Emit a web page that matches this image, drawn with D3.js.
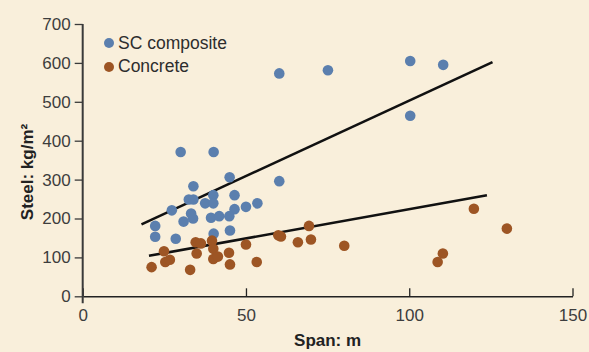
<!DOCTYPE html>
<html>
<head>
<meta charset="utf-8">
<script src="https://cdn.jsdelivr.net/npm/d3@7"></script>
<style>
  html, body { margin: 0; padding: 0; background: #f9efdb; }
  svg { display: block; }
  text { font-family: "Liberation Sans", Arial, sans-serif; }
</style>
</head>
<body>
<svg id="chart" width="589" height="352"></svg>
<script>
// ---- data ----
const seriesNames = ["SC composite", "Concrete"];
const scSpan  = [22.2, 22.2, 27.3, 28.5, 30.9, 32.5, 33.9, 33.9, 33.2, 33.8, 37.5, 40, 40, 39.3, 41.8, 40.1, 45, 46.5, 46.5, 44.9, 45.1, 50, 53.5, 60.2, 30, 40.1, 60.2, 75.1, 100.3, 110.4, 100.3];
const scSteel = [181, 153, 221, 148, 192, 249, 283, 249, 213, 200, 239, 260, 239, 202, 206, 161, 306, 260, 224, 206, 169, 230, 239, 296, 371, 371, 573, 581, 605, 595, 464];
const concreteSpan  = [21.1, 24.9, 25.3, 26.7, 32.9, 34.6, 36.2, 34.9, 39.6, 40, 40, 41.4, 44.8, 45.1, 50, 53.3, 59.9, 60.7, 65.9, 69.3, 69.9, 80.1, 108.7, 110.3, 119.8, 129.9];
const concreteSteel = [75, 116, 88, 94, 68, 139, 136, 110, 143, 122, 96, 102, 112, 82, 133, 88, 157, 154, 139, 181, 146, 130, 88, 110, 225, 174];
const scTrendSpan  = [18, 125.5];
const scTrendSteel = [185, 602];
const concreteTrendSpan  = [20.3, 123.8];
const concreteTrendSteel = [104, 260];
const xTicks = [0, 50, 100, 150];
const yTicks = [0, 100, 200, 300, 400, 500, 600, 700];
const xTitle = "Span: m";
const yTitle = "Steel: kg/m²";

const colors = { sc: "#5b7fae", concrete: "#9d5524" };

const svg = d3.select("#chart");
const x = d3.scaleLinear().domain([0, 150]).range([82.7, 572.5]);
const y = d3.scaleLinear().domain([0, 700]).range([296.3, 24]);

// axes
const xAxis = svg.append("g")
  .attr("transform", `translate(0,${y(0)})`)
  .call(d3.axisBottom(x).tickValues(xTicks).tickSizeInner(-8).tickSizeOuter(0).tickPadding(13));
xAxis.select(".domain").attr("stroke", "#222").attr("stroke-width", 1.6);
xAxis.selectAll(".tick line").attr("stroke", "#222").attr("stroke-width", 1.3);
xAxis.selectAll(".tick text").attr("font-size", 17).attr("fill", "#3d3d3d")
  .attr("font-family", "Liberation Sans, Arial, sans-serif");

const yAxis = svg.append("g")
  .attr("transform", `translate(${x(0)},0)`)
  .call(d3.axisLeft(y).tickValues(yTicks).tickSizeInner(8).tickSizeOuter(0).tickPadding(4));
yAxis.select(".domain").attr("stroke", "#3a3a3a").attr("stroke-width", 2)
  .attr("d", `M0,${y(700)}V${y(0) + 7}`);
yAxis.selectAll(".tick line").attr("stroke", "#3a3a3a").attr("stroke-width", 1.3);
yAxis.selectAll(".tick text").attr("font-size", 17).attr("fill", "#3d3d3d")
  .attr("font-family", "Liberation Sans, Arial, sans-serif");

// axis titles
svg.append("text")
  .attr("x", (x(0) + x(150)) / 2).attr("y", 346)
  .attr("text-anchor", "middle").attr("font-size", 17).attr("font-weight", "bold")
  .attr("fill", "#222").text(xTitle);
svg.append("text")
  .attr("transform", "translate(33,172) rotate(-90)")
  .attr("text-anchor", "middle").attr("font-size", 17).attr("font-weight", "bold")
  .attr("fill", "#222").text(yTitle);

// trend lines
const line = d3.line().x(d => x(d[0])).y(d => y(d[1]));
svg.append("path")
  .datum(d3.zip(scTrendSpan, scTrendSteel))
  .attr("d", line).attr("fill", "none").attr("stroke", "#111").attr("stroke-width", 2.6);
svg.append("path")
  .datum(d3.zip(concreteTrendSpan, concreteTrendSteel))
  .attr("d", line).attr("fill", "none").attr("stroke", "#111").attr("stroke-width", 2.6);

// points
svg.append("g").selectAll("circle")
  .data(d3.zip(scSpan, scSteel)).join("circle")
  .attr("cx", d => x(d[0])).attr("cy", d => y(d[1])).attr("r", 5.3)
  .attr("fill", colors.sc);
svg.append("g").selectAll("circle")
  .data(d3.zip(concreteSpan, concreteSteel)).join("circle")
  .attr("cx", d => x(d[0])).attr("cy", d => y(d[1])).attr("r", 5.3)
  .attr("fill", colors.concrete);

// legend
const legend = svg.append("g");
const legendColors = [colors.sc, colors.concrete];
seriesNames.forEach((name, i) => {
  legend.append("circle").attr("cx", 109).attr("cy", 43 + i * 24).attr("r", 5).attr("fill", legendColors[i]);
  legend.append("text").attr("x", 118).attr("y", 48.5 + i * 23.5)
    .attr("font-size", 17.5).attr("fill", "#2d2d2d").text(name);
});
</script>
</body>
</html>
